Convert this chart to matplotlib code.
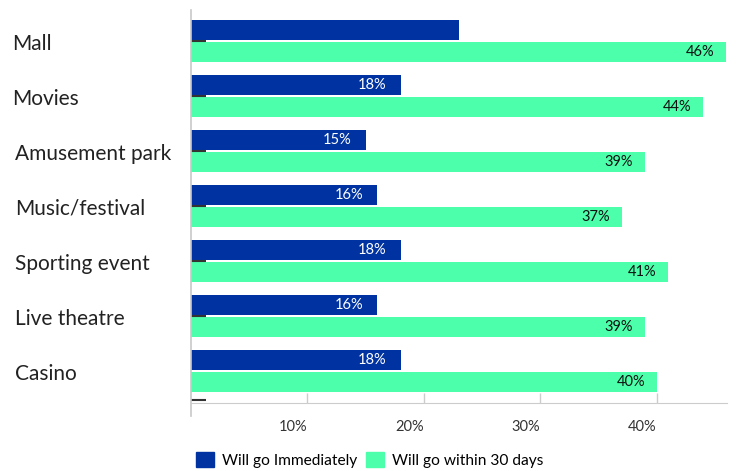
import matplotlib
matplotlib.use("Agg")
import matplotlib.pyplot as plt
import matplotlib.transforms as mtrans
from matplotlib.patches import Patch

plt.rcParams['font.family'] = ['Lato', 'DejaVu Sans']

# data
categories = ['Mall', 'Movies', 'Amusement park', 'Music/festival',
              'Sporting event', 'Live theatre', 'Casino']
immediately = [23, 18, 15, 16, 18, 16, 18]
within_30 = [46, 44, 39, 37, 41, 39, 40]
immediately_labels = ['', '18%', '15%', '16%', '18%', '16%', '18%']
within_30_labels = ['46%', '44%', '39%', '37%', '41%', '39%', '40%']
xticks = [10, 20, 30, 40]
xtick_labels = ['10%', '20%', '30%', '40%']

BLUE = '#0033A1'
GREEN = '#4CFFAB'

W, H = 736, 471
fig = plt.figure(figsize=(W / 100, H / 100), dpi=100)
# axes box in pixels: left 191, right 727, top 10, bottom 403
ax = fig.add_axes([191 / W, (H - 403) / H, (727 - 191) / W, (403 - 10) / H])

n = len(categories)
ypos = list(range(n))
bar_h = 20 / 55
off = 11 / 55

ax.barh([y - off for y in ypos], immediately, height=bar_h, color=BLUE)
ax.barh([y + off for y in ypos], within_30, height=bar_h, color=GREEN)

for y, v, lab in zip(ypos, immediately, immediately_labels):
    if lab:
        ax.text(v - 1.2, y - off, lab, color='white', fontsize=10.5,
                ha='right', va='center')
for y, v, lab in zip(ypos, within_30, within_30_labels):
    ax.text(v - 1.0, y + off, lab, color='#111111', fontsize=10.5,
            ha='right', va='center')

ax.set_xlim(0, (727 - 191) / 11.64)
ax.set_ylim(n - 1 + 32 / 55, -31 / 55)

# category labels, left aligned near the figure edge
tr = mtrans.blended_transform_factory(fig.transFigure, ax.transData)
for y, c in zip(ypos, categories):
    x0 = 12 if y < 2 else 15
    ax.text(x0 / W, y + 0.05, c, transform=tr, fontsize=15, color='#222222',
            ha='left', va='center')

# odd little dashes on the left axis
ax.set_yticks(ypos[:-1] + [n - 1 + 29 / 55])
ax.set_yticklabels([])
ax.tick_params(axis='y', direction='in', length=11, width=1.5, color='#333333')

ax.set_xticks(xticks)
ax.set_xticklabels(xtick_labels, ha='right', fontsize=10.5, color='#333333')
ax.tick_params(axis='x', direction='in', length=7, width=1, color='#cccccc', pad=12)

for s in ['top', 'right']:
    ax.spines[s].set_visible(False)
ax.spines['bottom'].set_color('#cccccc')
ax.spines['left'].set_color('#c8c8c8')
ax.spines['left'].set_linewidth(1.2)
ax.spines['left'].set_bounds(n - 1 + 45 / 55, -31 / 55)

handles = [Patch(color=BLUE, label='Will go Immediately'),
           Patch(color=GREEN, label='Will go within 30 days')]
fig.legend(handles=handles, loc='lower left', bbox_to_anchor=(190 / W, -3 / H),
           ncol=2, frameon=False, fontsize=11.2, handlelength=1.15, handleheight=1.15,
           handletextpad=0.5, columnspacing=0.6, borderaxespad=0)

fig.savefig('out.png', dpi=100)
